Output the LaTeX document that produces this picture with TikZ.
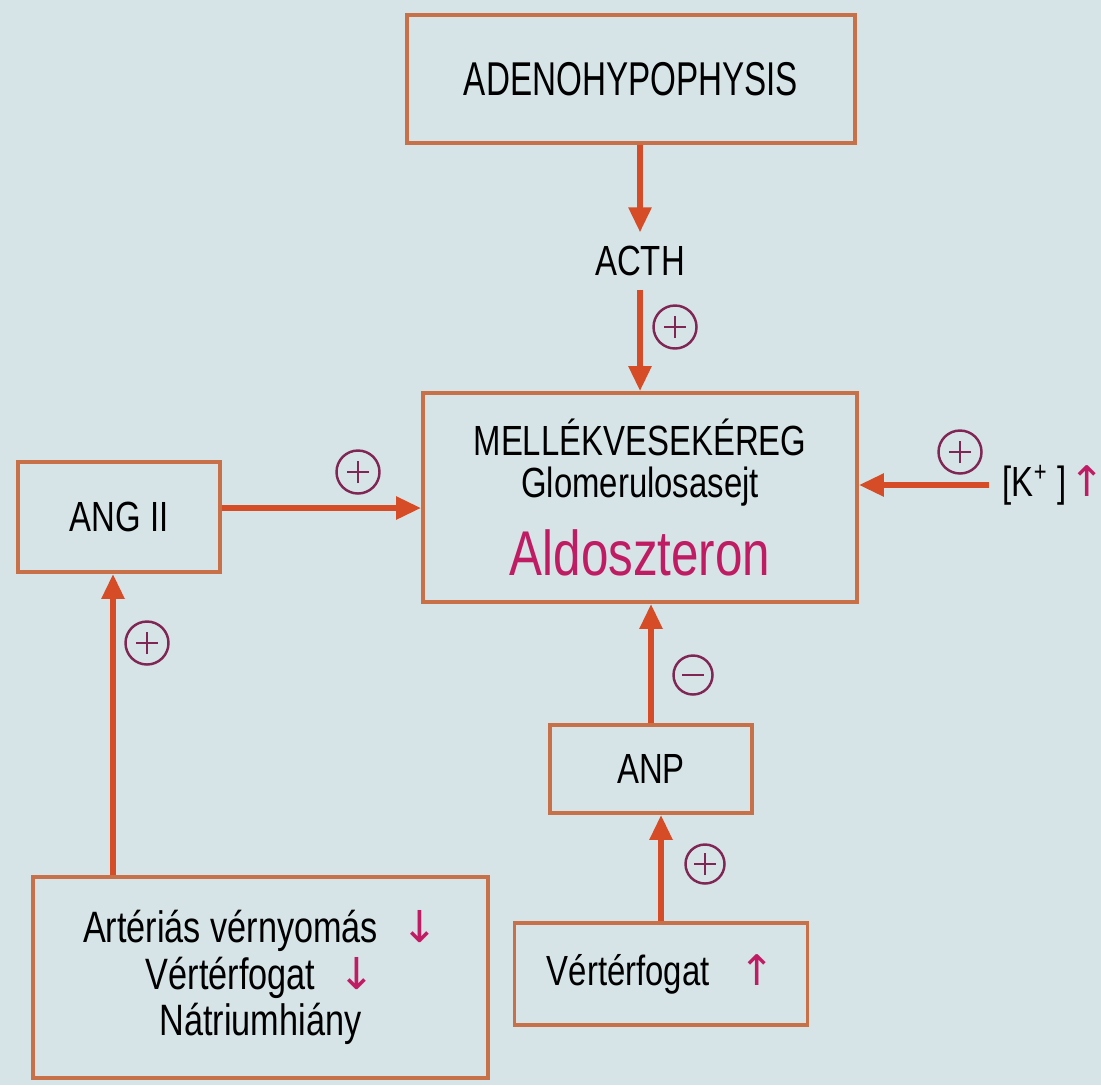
\documentclass[tikz,border=0pt]{standalone}
\usepackage{fontspec}
\setmainfont{Liberation Sans}[FakeStretch=0.78]
\newfontfamily\narrowfont{Liberation Sans}[FakeStretch=0.7]
\newfontfamily\arrowfont{DejaVu Sans}
\usetikzlibrary{arrows.meta}

\definecolor{bgc}{RGB}{214,228,231}
\definecolor{boxc}{RGB}{200,112,72}
\definecolor{arrc}{RGB}{214,76,38}
\definecolor{signc}{RGB}{128,38,84}
\definecolor{hormc}{RGB}{192,28,100}

\newcommand{\downmark}{{\arrowfont\color{hormc}↓}}
\newcommand{\upmark}{{\arrowfont\color{hormc}↑}}

\begin{document}
\begin{tikzpicture}[
    >={Triangle[length=2.5mm,width=2.2mm]},
    every node/.style={font=\fontsize{12}{12.2}\selectfont},
    box/.style={
        draw=boxc, line width=1.1pt,
        align=center, inner sep=0pt
    },
    flow/.style={->, draw=arrc, fill=arrc, line width=1.6pt},
    sign/.style={
        circle, draw=signc, line width=0.7pt,
        minimum size=4.3mm, inner sep=0pt
    },
    plus/.style={sign, path picture={
        \draw[signc, line width=0.7pt]
            ([xshift=-1.1mm]path picture bounding box.center) -- ++(2.2mm,0)
            ([yshift=-1.1mm]path picture bounding box.center) -- ++(0,2.2mm);}},
    minus/.style={sign, path picture={
        \draw[signc, line width=0.7pt]
            ([xshift=-1.1mm]path picture bounding box.center) -- ++(2.2mm,0);}}
]

% ----------------------------------------------------------
% Hintergrund (Seitenfarbe)
% ----------------------------------------------------------
\fill[bgc] (0mm, 0mm) rectangle (110.1mm, -108.5mm);
\useasboundingbox (0mm, 0mm) rectangle (110.1mm, -108.5mm);

% ----------------------------------------------------------
% Kaesten
% ----------------------------------------------------------
\node[box, minimum width=44.8mm, minimum height=12.8mm,
      font=\narrowfont\fontsize{13.5}{14}\selectfont]
    (adeno) at (63.1mm, -7.9mm) {ADENOHYPOPHYSIS};

\node[box, minimum width=43.4mm, minimum height=20.9mm] (mell) at (64mm, -49.75mm)
    {MELLÉKVESEKÉREG\\Glomerulosasejt\\[2mm]%
     {\fontsize{18}{18}\selectfont\color{hormc}Aldoszteron}};

\node[box, minimum width=20.2mm, minimum height=11mm] (ang) at (11.9mm, -51.7mm) {ANG II};

\node[box, minimum width=20.2mm, minimum height=8.8mm] (anp) at (65.1mm, -76.9mm) {ANP};

\node[box, minimum width=29.3mm, minimum height=10.2mm] (vol) at (66.1mm, -97.4mm)
    {Vértérfogat\hspace{3mm}\upmark};

\node[box, minimum width=45.5mm, minimum height=20.1mm,
      font=\fontsize{12.5}{13.3}\selectfont] (sym) at (26.05mm, -97.75mm)
    {Artériás vérnyomás\hspace{2.3mm}\downmark\\
     Vértérfogat\hspace{2.3mm}\downmark\\
     Nátriumhiány};

% freie Beschriftungen
\node[inner sep=1.3mm] (acth) at (64mm, -26.1mm) {ACTH};
\node[inner sep=1.3mm, anchor=west] (kion) at (98.9mm, -48.5mm)
    {[K\textsuperscript{+} ]\hspace{0.3mm}\upmark};

% ----------------------------------------------------------
% Pfeile
% ----------------------------------------------------------
\draw[flow] (acth.north |- adeno.south) -- (acth.north);
\draw[flow] (acth.south) -- (acth.south |- mell.north);
\draw[flow] ([yshift=0.9mm]ang.east) -- ([yshift=0.9mm]ang.east -| mell.west);
\draw[flow] (kion.west) -- (kion.west -| mell.east);
\draw[flow] (anp.north) -- (anp.north |- mell.south);
\draw[flow] (vol.north) -- (vol.north |- anp.south);
\draw[flow] ([xshift=-0.6mm]ang.south |- sym.north) -- ([xshift=-0.6mm]ang.south);

% ----------------------------------------------------------
% Vorzeichen
% ----------------------------------------------------------
\node[plus]  (sacth) at (67.5mm, -32.7mm) {};
\node[plus]  (sang)  at (35.8mm, -47.2mm) {};
\node[plus]  (skion) at (96mm,   -45.2mm) {};
\node[minus, minimum size=3.9mm] (sanp) at (69.3mm, -67.5mm) {};
\node[plus, minimum size=3.9mm]  (svol) at (70.5mm, -86.4mm) {};
\node[plus]  (ssym)  at (14.7mm, -64.3mm) {};

\end{tikzpicture}
\end{document}
